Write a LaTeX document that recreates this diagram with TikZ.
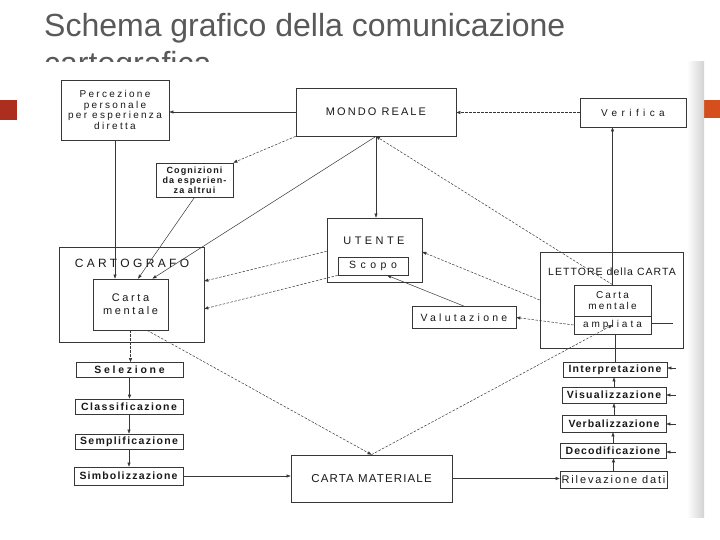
\documentclass[tikz,border=0pt]{standalone}
\usepackage{fontspec}
\setmainfont{Liberation Sans}
\usetikzlibrary{arrows.meta,calc}
\definecolor{titlegray}{RGB}{89,89,89}
\definecolor{leftred}{RGB}{172,46,30}
\definecolor{rightred}{RGB}{212,78,30}
\definecolor{linec}{RGB}{55,55,55}
\definecolor{txtc}{RGB}{25,25,25}
\newcommand\tf[3]{\fontsize{#1}{#2}\selectfont\addfontfeature{LetterSpace=#3}}
\newcommand\tb[3]{\fontsize{#1}{#2}\bfseries\selectfont\addfontfeature{LetterSpace=#3}}
\begin{document}
\begin{tikzpicture}[x=1pt,y=-1pt,
  box/.style={draw=linec, line width=0.7pt, inner sep=0pt, text=txtc, align=center},
  lbl/.style={inner sep=0pt, text=txtc, align=center},
  conn/.style={draw=linec, line width=0.5pt, -{Triangle[length=4pt,width=3pt]}},
  dconn/.style={conn, dash pattern=on 2.5pt off 1.5pt},
  plain/.style={draw=linec, line width=0.5pt},
  ttl/.style={anchor=base west, inner sep=0pt, text=titlegray, font=\fontsize{32}{38}\selectfont}]
\useasboundingbox (0,0) rectangle (720,540);
\fill[white] (0,0) rectangle (720,540);
% title
\node[ttl] (title1) at (44,37) {Schema grafico della comunicazione};
\node[ttl] (title2) at (44,75) {cartografica};
% red markers
\fill[leftred] (0,100) rectangle (17,120);
\fill[rightred] (704,100) rectangle (720,118);
% scanned figure area
\fill[white] (40,62) rectangle (704,517);
\shade[left color=white, right color=gray!35] (687,62) rectangle (704,517);

% top row
\node[box, minimum width=108pt, minimum height=60pt, font=\tf{10}{10.5}{23}] (perc) at (115,110) {Percezione\\personale\\per esperienza\\diretta};
\node[box, minimum width=160pt, minimum height=48pt, font=\tf{11}{13}{19}] (mondo) at (376,112) {MONDO REALE};
\node[box, minimum width=106pt, minimum height=29pt, font=\tf{10}{12}{44}] (verif) at (633,112.5) {Verifica};
\node[box, minimum width=77pt, minimum height=34pt, font=\tb{9}{9.8}{12}] (cogn) at (194.5,180) {Cognizioni\\da esperien-\\za altrui};

% cartografo
\node[box, minimum width=145pt, minimum height=95pt] (carto) at (131.5,294.5) {};
\node[lbl, font=\tf{12}{14}{28}] (cartot) at (132,263) {CARTOGRAFO};
\node[box, minimum width=75pt, minimum height=51pt, font=\tf{11}{13}{24}] (cmc) at (130.5,304.5) {Carta\\mentale};

% utente
\node[box, minimum width=95pt, minimum height=64pt] (utente) at (374.5,250) {};
\node[lbl, font=\tf{11}{13}{31}] (utentet) at (374,241) {UTENTE};
\node[box, minimum width=70pt, minimum height=18pt, font=\tf{10.5}{12}{43}] (scopo) at (373,266) {Scopo};
\node[box, minimum width=104pt, minimum height=22pt, font=\tf{10.5}{12}{31}] (valut) at (464,317.5) {Valutazione};

% lettore
\node[box, minimum width=143pt, minimum height=96pt] (lettore) at (611.5,300) {};
\node[lbl, font=\tf{10.5}{12}{10}] (lettoret) at (612,272) {LETTORE della CARTA};
\node[box, minimum width=77pt, minimum height=31pt, font=\tf{10}{11.5}{21}] (cml) at (612.5,300.5) {Carta\\mentale};
\node[box, minimum width=77pt, minimum height=18pt, font=\tf{10}{12}{30}] (ampl) at (612.5,325) {ampliata};

% left chain
\node[box, minimum width=107pt, minimum height=15pt, font=\tb{10.5}{13}{26}] (sel) at (129.5,370) {Selezione};
\node[box, minimum width=108pt, minimum height=15pt, font=\tb{10.5}{13}{13.5}] (cla) at (129,406.5) {Classificazione};
\node[box, minimum width=108pt, minimum height=15pt, font=\tb{10.5}{13}{12.5}] (sem) at (129,441.5) {Semplificazione};
\node[box, minimum width=109pt, minimum height=18pt, font=\tb{10.5}{13}{11.5}] (sim) at (128.5,476) {Simbolizzazione};

% right chain
\node[box, minimum width=104pt, minimum height=15pt, font=\tb{10.5}{13}{12}] (interp) at (615,369.5) {Interpretazione};
\node[box, minimum width=104pt, minimum height=16pt, font=\tb{10.5}{13}{12}] (visu) at (614,395) {Visualizzazione};
\node[box, minimum width=104pt, minimum height=17pt, font=\tb{10.5}{13}{9}] (verb) at (614,423.5) {Verbalizzazione};
\node[box, minimum width=106pt, minimum height=15pt, font=\tb{10.5}{13}{10}] (deco) at (613,450.5) {Decodificazione};
\node[box, minimum width=107pt, minimum height=17pt, font=\tf{11}{13}{17}] (rile) at (613.5,480) {Rilevazione dati};

% carta materiale
\node[box, minimum width=161pt, minimum height=47pt, font=\tf{11.5}{13}{10}] (cmat) at (371.5,478.5) {CARTA MATERIALE};

% free ends
\coordinate (ampr) at (673,323);
\coordinate (r1) at (676,368);
\coordinate (r2) at (676,395);
\coordinate (r3) at (676,424);
\coordinate (r4) at (676,452);

% connectors
\draw[conn] (mondo.west) -- (mondo.west -| perc.east);
\draw[dconn] (verif.west) -- (verif.west -| mondo.east);
\draw[dconn] (mondo.south west) -- (cogn.north east);
\draw[conn] (mondo.south) -- ($(cmc.north west)!0.79!(cmc.north east)$);
\draw[conn] (perc.south) -- (perc.south |- cmc.north);
\draw[conn] (cogn.south) -- ($(cmc.north west)!0.6!(cmc.north east)$);
\draw[conn] (mondo.south) -- (mondo.south |- utente.north);
\draw[dconn] (cml.north) -- (mondo.south);
\draw[conn] (cml.north) -- (cml.north |- verif.south);
\draw[dconn] ($(utente.north west)!0.52!(utente.south west)$) -- ($(carto.north east)!0.36!(carto.south east)$);
\draw[dconn] (scopo.south west) -- ($(carto.north east)!0.65!(carto.south east)$);
\draw[dconn] (lettore.west) -- ($(utente.north east)!0.53!(utente.south east)$);
\draw[conn] (valut.north) -- ($(scopo.south west)!0.7!(scopo.south east)$);
\draw[dconn] (ampl.west) -- (valut.east);
\draw[dconn] (cmc.south) -- (cmc.south |- sel.north);
\draw[conn] (sel.south) -- (sel.south |- cla.north);
\draw[conn] (cla.south) -- (cla.south |- sem.north);
\draw[conn] (sem.south) -- (sem.south |- sim.north);
\draw[conn] (sim.east) -- (sim.east -| cmat.west);
\draw[conn] (cmat.east) -- (cmat.east -| rile.west);
\draw[conn] (rile.north) -- (rile.north |- deco.south);
\draw[conn] (deco.north) -- (deco.north |- verb.south);
\draw[conn] (verb.north) -- (verb.north |- visu.south);
\draw[conn] (visu.north) -- (visu.north |- interp.south);
\draw[plain] (interp.north) -- (interp.north |- ampl.south);
\draw[plain] (ampl.east |- ampr) -- (ampr);
\draw[conn] (r1) -- (r1 -| interp.east);
\draw[conn] (r2) -- (r2 -| visu.east);
\draw[conn] (r3) -- (r3 -| verb.east);
\draw[conn] (r4) -- (r4 -| deco.east);
\draw[dconn] ($(cmc.south west)!0.72!(cmc.south east)$) -- (cmat.north);
\draw[dconn] (cmat.north) -- (ampl.center);
\end{tikzpicture}
\end{document}
